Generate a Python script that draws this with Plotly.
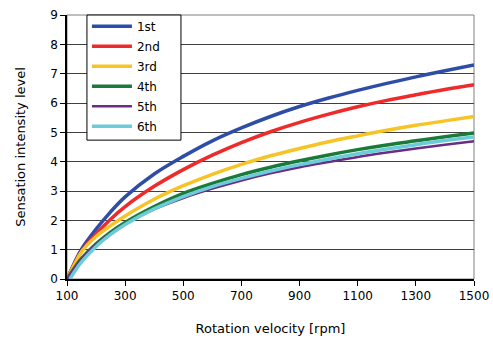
import plotly.graph_objects as go

# Data
rpm = [100, 125, 150, 200, 250, 300, 400, 500, 600, 700, 800, 900, 1000, 1100, 1200, 1300, 1400, 1500]
rpm_6th = [110, 125, 150, 200, 250, 300, 400, 500, 600, 700, 800, 900, 1000, 1100, 1200, 1300, 1400, 1500]

s1 = [0, 0.54, 1.02, 1.70, 2.29, 2.80, 3.58, 4.18, 4.71, 5.15, 5.54, 5.88, 6.17, 6.43, 6.67, 6.89, 7.10, 7.30]
s2 = [0, 0.50, 0.95, 1.54, 2.04, 2.47, 3.16, 3.73, 4.22, 4.65, 5.02, 5.34, 5.62, 5.87, 6.09, 6.28, 6.46, 6.62]
s3 = [0, 0.48, 0.93, 1.45, 1.82, 2.15, 2.72, 3.18, 3.57, 3.91, 4.20, 4.45, 4.68, 4.88, 5.07, 5.24, 5.39, 5.54]
s4 = [0, 0.37, 0.70, 1.20, 1.60, 1.93, 2.47, 2.92, 3.26, 3.56, 3.81, 4.03, 4.23, 4.41, 4.57, 4.71, 4.85, 4.98]
s5 = [0, 0.36, 0.68, 1.17, 1.55, 1.87, 2.38, 2.76, 3.08, 3.36, 3.60, 3.81, 3.99, 4.16, 4.31, 4.45, 4.58, 4.70]
s6 = [0, 0.24, 0.58, 1.11, 1.52, 1.86, 2.39, 2.81, 3.15, 3.43, 3.68, 3.90, 4.09, 4.27, 4.43, 4.58, 4.72, 4.84]

names = ["1st", "2nd", "3rd", "4th", "5th", "6th"]
colors = ["#2E4DA7", "#EE2A2A", "#F7C325", "#1A7A3A", "#6B2C84", "#6CCBD8"]

xtick_vals = [100, 300, 500, 700, 900, 1100, 1300, 1500]
ytick_vals = list(range(0, 10))

fig = go.Figure()
series = [(rpm, s1, 3.5), (rpm, s2, 3.5), (rpm, s3, 3.5), (rpm, s4, 3.5), (rpm, s5, 2.5), (rpm_6th, s6, 3.5)]
for i, (xs, ys, w) in enumerate(series):
    fig.add_trace(go.Scatter(
        x=xs, y=ys, mode="lines", name=names[i], legendgroup=names[i],
        line=dict(color=colors[i], width=w, shape="spline", smoothing=1.0),
    ))

font_family = "DejaVu Sans, Arial, sans-serif"
fig.update_layout(
    width=493, height=338,
    margin=dict(l=67, r=19, t=13, b=59),
    plot_bgcolor="white", paper_bgcolor="white",
    font=dict(family=font_family, size=12, color="black"),
    showlegend=True,
    legend=dict(
        x=0.049, y=1.012, xanchor="left", yanchor="top",
        borderwidth=0, bgcolor="rgba(0,0,0,0)",
        font=dict(size=12, family=font_family),
        tracegroupgap=1, itemwidth=40,
    ),
    xaxis=dict(
        range=[100, 1500], tickvals=xtick_vals, ticktext=[str(v) for v in xtick_vals],
        showgrid=False, zeroline=False, automargin=False,
        showline=True, linecolor="black", linewidth=1.5,
        ticks="outside", ticklen=5, tickcolor="black",
        title=dict(text="Rotation velocity [rpm]", font=dict(size=13), standoff=22),
    ),
    yaxis=dict(
        range=[0, 9], tickvals=ytick_vals, automargin=False,
        showgrid=True, gridcolor="#404040", gridwidth=1,
        zeroline=False,
        showline=True, linecolor="black", linewidth=1.5,
        ticks="outside", ticklen=5, tickcolor="black",
        title=dict(text="Sensation intensity level", font=dict(size=13), standoff=22),
    ),
)
fig.add_shape(type="rect", xref="paper", yref="paper", x0=0, y0=0, x1=1, y1=1,
              line=dict(color="#808080", width=1), layer="below")
# legend frame
fig.add_shape(type="rect", xref="paper", yref="paper", x0=0.049, y0=0.526, x1=0.280, y1=1.0,
              line=dict(color="black", width=1), fillcolor="white", layer="above")

fig.write_html("out.html")
